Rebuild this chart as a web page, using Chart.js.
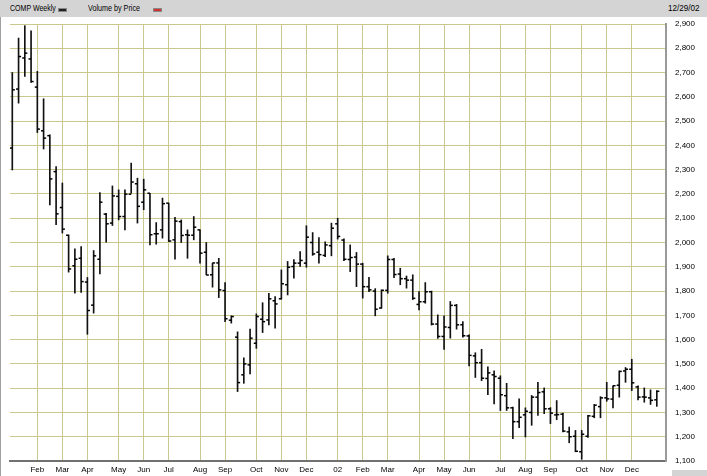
<!DOCTYPE html>
<html><head><meta charset="utf-8">
<script src="https://cdn.jsdelivr.net/npm/chart.js@4"></script>
<style>
html,body{margin:0;padding:0;background:#fff;}
#wrap{position:relative;width:707px;height:476px;overflow:hidden;background:#fff;}
#c{position:absolute;left:0;top:0;}
#hdr{position:absolute;left:0;top:0;width:707px;height:17px;background:#d4d4d4;font:9px "Liberation Sans",Arial,sans-serif;color:#000;z-index:2;}
#hdr span{position:absolute;top:3px;white-space:nowrap;transform-origin:0 0;}
.sw{position:absolute;top:8px;width:7px;height:2px;border:1px solid #888;}
#lline{position:absolute;left:0;top:17px;width:1px;height:459px;background:#a0a0a0;z-index:2;}
#corner{position:absolute;left:672px;top:470px;width:35px;height:6px;background:#d4d4d4;z-index:2;}
</style></head>
<body><div id="wrap">
<canvas id="c" width="707" height="476"></canvas>
<div id="hdr">
 <span style="left:10px;transform:scaleX(0.78)">COMP Weekly</span><div class="sw" style="left:58px;background:#222"></div>
 <span style="left:88px;transform:scaleX(0.8)">Volume by Price</span><div class="sw" style="left:153px;background:#d03030"></div>
 <span style="left:668px;transform:scaleX(0.9)">12/29/02</span>
</div>
<div id="lline"></div><div id="corner"></div>
</div>
<script>
// Weekly OHLC, COMP, Jan 2001 - Dec 2002 (one entry per week)
const openP = [2389,2632,2760,2756,2640,2460,2440,2292,2144,2030,1904,1935,1837,1742,1931,2117,2080,2190,2107,2199,
2242,2166,2203,2036,2052,2162,2011,2086,2032,2030,2052,1960,1867,1916,1802,1680,1610,1455,1496,1585,
1684,1681,1760,1768,1826,1901,1915,1915,2000,1960,1947,1987,2077,2010,1930,1940,1911,1818,1800,1730,
1803,1930,1870,1851,1845,1745,1756,1797,1664,1613,1650,1741,1661,1615,1533,1505,1440,1455,1441,1369,
1319,1262,1290,1300,1363,1385,1315,1290,1293,1220,1202,1138,1202,1284,1324,1360,1355,1412,1471,1478,
1405,1364,1360,1352];
const highP = [2700,2842,2893,2872,2705,2592,2444,2313,2245,2031,1974,1983,1856,1967,2206,2120,2233,2217,2217,2327,
2265,2261,2203,2082,2183,2162,2104,2093,2052,2107,2052,2000,1915,1935,1835,1698,1632,1525,1643,1706,
1752,1791,1777,1887,1922,1930,1963,2069,2041,2020,2003,2080,2100,2015,1990,1959,1915,1857,1810,1805,
1945,1935,1894,1862,1867,1798,1835,1800,1702,1698,1757,1745,1674,1620,1546,1560,1488,1471,1451,1420,
1322,1356,1319,1370,1424,1401,1320,1349,1297,1240,1226,1226,1288,1333,1365,1424,1410,1471,1485,1519,
1410,1401,1393,1390];
const lowP = [2299,2574,2684,2659,2453,2385,2155,2073,2039,1878,1791,1794,1622,1709,1871,2001,2070,2093,2052,2203,
2080,2135,1990,1993,2018,2004,1931,2000,1935,2011,1915,1867,1816,1773,1674,1668,1386,1420,1459,1564,
1629,1660,1647,1767,1784,1853,1901,1898,1947,1915,1942,1945,2014,1925,1880,1818,1771,1797,1698,1729,
1791,1855,1826,1812,1765,1722,1750,1660,1605,1560,1606,1643,1610,1492,1444,1431,1373,1335,1308,1308,
1192,1237,1199,1247,1288,1295,1254,1270,1220,1175,1138,1107,1197,1278,1278,1346,1319,1363,1424,1390,
1352,1342,1333,1325];
const closeP = [2629,2766,2780,2663,2467,2430,2262,2118,2055,1891,1931,1839,1720,1945,2166,2077,2192,2107,2199,2249,
2149,2217,2032,2036,2160,2006,2088,2029,2030,2063,1956,1866,1916,1805,1686,1695,1423,1500,1606,1695,
1674,1768,1747,1830,1898,1915,1926,2022,1953,1950,1990,2059,2025,1931,1938,1911,1818,1805,1725,1803,
1930,1868,1851,1845,1770,1756,1797,1664,1613,1652,1741,1661,1616,1535,1505,1441,1463,1448,1373,1319,
1262,1280,1305,1363,1382,1315,1297,1291,1223,1200,1140,1210,1286,1330,1360,1356,1410,1469,1478,1422,
1363,1363,1350,1387];
// Month grid positions (week index) and labels
const monthWeek = [4,8,12,17,21,25,30,34,39,43,47,52,56,60,65,69,73,78,82,86,91,95,99];
const monthLabel = ['Feb','Mar','Apr','May','Jun','Jul','Aug','Sep','Oct','Nov','Dec','02',
                    'Feb','Mar','Apr','May','Jun','Jul','Aug','Sep','Oct','Nov','Dec'];
const yMin = 1100, yMax = 2900, yStep = 100;

const gridCol = '#c9c98e';
const font = {family:'"Liberation Sans", Arial, sans-serif', size:8};

new Chart(document.getElementById('c'), {
  type:'bar',
  data:{datasets:[
    {type:'bar', data: highP.map((h,i)=>({x:i, y:[lowP[i], h]})), backgroundColor:'#111',
     barThickness:1, borderWidth:0, grouped:false, order:2},
    {type:'scatter', data: openP.map((o,i)=>({x:i-0.2, y:o})), pointStyle:'line', radius:1.3,
     borderWidth:1.5, borderColor:'#000', backgroundColor:'#000', order:1},
    {type:'scatter', data: closeP.map((c,i)=>({x:i+0.2, y:c})), pointStyle:'line', radius:1.3,
     borderWidth:1.5, borderColor:'#000', backgroundColor:'#000', order:1}
  ]},
  options:{
    responsive:false, animation:false, devicePixelRatio:1,
    layout:{padding:{left:10, top:24, right:0, bottom:0}},
    plugins:{legend:{display:false}, tooltip:{enabled:false}, title:{display:false}},
    events:[],
    scales:{
      x:{type:'linear', min:-0.368, max:104.47, offset:false,
         grid:{color:gridCol, lineWidth:1, drawTicks:false, offset:false},
         border:{display:true, color:'#707070', width:2},
         afterBuildTicks:s=>{ s.ticks = monthWeek.map(v=>({value:v})); },
         afterFit:s=>{ s.height = 15; },
         ticks:{autoSkip:false, maxRotation:0, padding:4, color:'#000', font,
                callback:(v)=>{ const k = monthWeek.indexOf(v); return k>=0 ? monthLabel[k] : ''; }}},
      y:{type:'linear', position:'right', min:yMin, max:yMax,
         grid:{color:gridCol, lineWidth:1, drawTicks:false},
         border:{display:true, color:'#9a9a9a', width:2},
         afterFit:s=>{ s.width = 41; },
         ticks:{stepSize:yStep, padding:9, color:'#000', font,
                callback:v=>v.toLocaleString('en-US')}}
    }
  }
});
</script>
</body></html>
